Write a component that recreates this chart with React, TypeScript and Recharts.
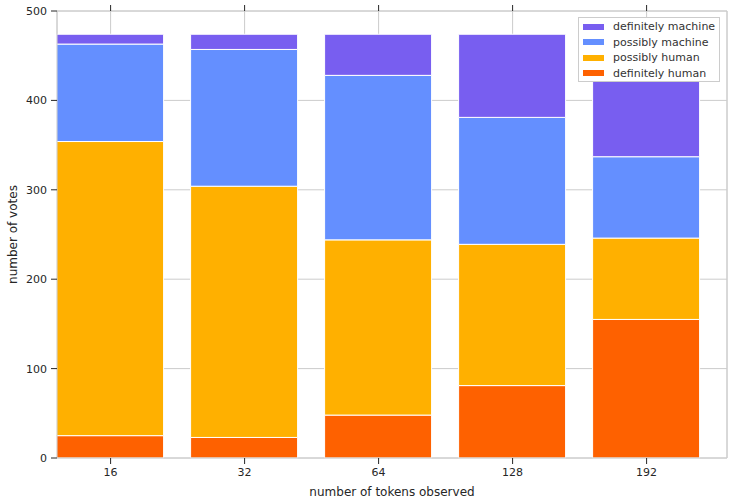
import { BarChart, Bar, XAxis, YAxis, CartesianGrid, Legend } from 'recharts';

const categories = ['16', '32', '64', '128', '192'];
const definitelyHuman = [25, 23, 48, 81, 155];
const possiblyHuman = [329, 281, 196, 158, 91];
const possiblyMachine = [109, 153, 184, 142, 91];
const definitelyMachine = [11, 17, 46, 93, 137];
const yTicks = [0, 100, 200, 300, 400, 500];

const SERIES = [
  { key: 'dh', name: 'definitely human', color: '#FE6100' },
  { key: 'ph', name: 'possibly human', color: '#FFB000' },
  { key: 'pm', name: 'possibly machine', color: '#648FFF' },
  { key: 'dm', name: 'definitely machine', color: '#785EF0' },
];

const data = categories.map((c, i) => ({
  idx: i,
  label: c,
  dh: definitelyHuman[i],
  ph: possiblyHuman[i],
  pm: possiblyMachine[i],
  dm: definitelyMachine[i],
}));

const FONT = '"DejaVu Sans", sans-serif';
const TEXT = '#262626';
const SPINE = '#cccccc';
const xTicks = data.map((d) => d.idx);

function VoteLegend() {
  const items = [...SERIES].reverse();
  return (
    <div
      style={{
        boxSizing: 'border-box',
        border: `1px solid ${SPINE}`,
        background: '#fff',
        padding: '1px 3px 3px 4px',
        fontFamily: FONT,
        fontSize: 11,
        color: '#333',
        width: 142,
        height: 65,
        whiteSpace: 'nowrap',
      }}
    >
      {items.map((s) => (
        <div key={s.key} style={{ display: 'flex', alignItems: 'center', height: 15.5 }}>
          <span style={{ display: 'inline-block', flex: 'none', width: 21, height: 6, background: s.color, marginRight: 9 }} />
          <span>{s.name}</span>
        </div>
      ))}
    </div>
  );
}

export default function App() {
  return (
    <div style={{ position: 'absolute', left: 0, top: 0 }}>
      <BarChart width={733} height={503} data={data} margin={{ top: 0, right: 0, bottom: 0, left: 0 }}>
        <CartesianGrid stroke={SPINE} strokeWidth={1} />
        <XAxis
          dataKey="idx"
          type="number"
          domain={[-0.4, 4.6]}
          ticks={xTicks}
          tickFormatter={(v) => categories[v] ?? ''}
          height={45}
          tickSize={6}
          tickMargin={4}
          axisLine={{ stroke: SPINE }}
          tickLine={{ stroke: TEXT }}
          tick={{ fontSize: 11, fill: TEXT, fontFamily: FONT }}
          label={{ value: 'number of tokens observed', position: 'insideBottom', offset: 7, fontSize: 12, fill: TEXT, fontFamily: FONT }}
        />
        <XAxis
          xAxisId="top"
          dataKey="idx"
          type="number"
          orientation="top"
          domain={[-0.4, 4.6]}
          ticks={xTicks}
          tickFormatter={() => ''}
          height={11}
          tickSize={6}
          axisLine={{ stroke: SPINE }}
          tickLine={{ stroke: TEXT }}
        />
        <YAxis
          type="number"
          domain={[0, 500]}
          ticks={yTicks}
          width={57}
          tickSize={6}
          tickMargin={4}
          axisLine={{ stroke: SPINE }}
          tickLine={{ stroke: TEXT }}
          tick={{ fontSize: 11, fill: TEXT, fontFamily: FONT }}
          label={{ value: 'number of votes', angle: -90, position: 'insideLeft', offset: 13, fontSize: 12, fill: TEXT, fontFamily: FONT, style: { textAnchor: 'middle' } }}
        />
        <YAxis
          yAxisId="right"
          type="number"
          orientation="right"
          domain={[0, 500]}
          ticks={yTicks}
          tickFormatter={() => ''}
          width={6}
          tickSize={6}
          axisLine={{ stroke: SPINE }}
          tickLine={{ stroke: TEXT }}
        />
        {SERIES.map((s) => (
          <Bar
            key={s.key}
            dataKey={s.key}
            name={s.name}
            stackId="votes"
            fill={s.color}
            stroke="#fff"
            strokeWidth={1}
            barSize={107}
            isAnimationActive={false}
          />
        ))}
        <Legend
          layout="vertical"
          align="center"
          verticalAlign="middle"
          content={<VoteLegend />}
          wrapperStyle={{ top: 17, left: 578, width: 142 }}
        />
      </BarChart>
    </div>
  );
}
